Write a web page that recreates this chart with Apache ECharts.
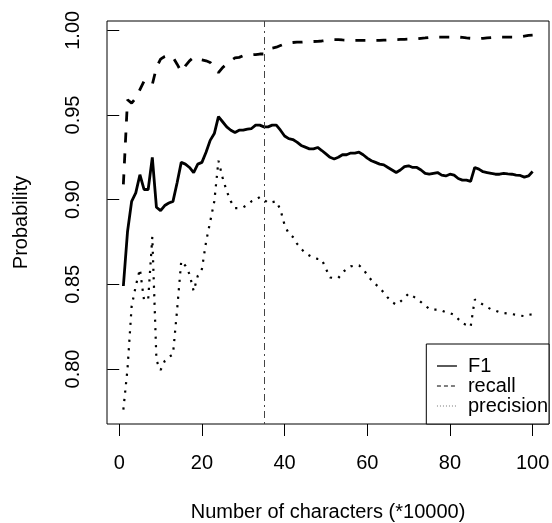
<!DOCTYPE html>
<html>
<head>
<meta charset="utf-8">
<script src="https://cdn.jsdelivr.net/npm/echarts@6/dist/echarts.min.js"></script>
<style>
  html, body { margin: 0; padding: 0; background: #fff; }
  #chart { width: 552px; height: 523px; }
</style>
</head>
<body>
<div id="chart"></div>
<script>
// x = number of characters (*10000)
const xs = [1,2,3,4,5,6,7,8,9,10,11,12,13,14,15,16,17,18,19,20,
  21,22,23,24,25,26,27,28,29,30,31,32,33,34,35,36,37,38,39,40,
  41,42,43,44,45,46,47,48,49,50,51,52,53,54,55,56,57,58,59,60,
  61,62,63,64,65,66,67,68,69,70,71,72,73,74,75,76,77,78,79,80,
  81,82,83,84,85,86,87,88,89,90,91,92,93,94,95,96,97,98,99,100];

const f1 = [0.849,0.881,0.899,0.904,0.9147,0.906,0.906,0.925,0.8955,0.8935,
  0.8965,0.898,0.899,0.910,0.922,0.921,0.919,0.916,0.921,0.922,
  0.928,0.935,0.939,0.949,0.946,0.943,0.941,0.9396,0.941,0.941,
  0.9416,0.942,0.944,0.944,0.943,0.943,0.944,0.944,0.941,0.9376,
  0.936,0.9355,0.934,0.932,0.931,0.930,0.930,0.9308,0.929,0.927,
  0.925,0.924,0.925,0.9265,0.9265,0.9275,0.9275,0.928,0.9265,0.9245,
  0.923,0.922,0.921,0.9205,0.919,0.9175,0.916,0.9175,0.9195,0.920,
  0.919,0.919,0.9175,0.9155,0.915,0.9155,0.916,0.9145,0.914,0.915,
  0.9145,0.9125,0.9115,0.9115,0.9108,0.919,0.918,0.9165,0.916,0.9155,
  0.915,0.915,0.9155,0.9152,0.915,0.9145,0.9143,0.9133,0.914,0.9166];

const recall = [0.909,0.959,0.957,0.960,0.965,0.970,0.970,0.968,0.978,0.983,
  0.9845,0.9853,0.984,0.980,0.9755,0.979,0.982,0.984,0.983,0.9825,
  0.982,0.981,0.978,0.975,0.978,0.980,0.982,0.9837,0.984,0.985,
  0.9852,0.9855,0.9857,0.986,0.986,0.988,0.9895,0.990,0.991,0.992,
  0.9925,0.9928,0.993,0.993,0.9932,0.9933,0.9934,0.9935,0.9937,0.994,
  0.9942,0.9945,0.9945,0.9943,0.9942,0.994,0.994,0.994,0.994,0.994,
  0.994,0.994,0.994,0.9942,0.9943,0.9944,0.9945,0.9946,0.9947,0.9948,
  0.9949,0.995,0.9953,0.9955,0.9958,0.996,0.996,0.996,0.996,0.996,
  0.996,0.996,0.9958,0.9955,0.9953,0.9951,0.9951,0.9953,0.9955,0.9957,
  0.9959,0.996,0.996,0.996,0.996,0.996,0.9962,0.9966,0.997,0.9972];

const precision = [0.776,0.800,0.837,0.849,0.859,0.8406,0.841,0.878,0.805,0.7994,
  0.8047,0.807,0.8086,0.835,0.8637,0.861,0.856,0.846,0.855,0.859,
  0.875,0.887,0.899,0.923,0.913,0.905,0.899,0.895,0.895,0.8955,
  0.897,0.899,0.900,0.9015,0.900,0.898,0.8985,0.899,0.894,0.885,
  0.880,0.878,0.874,0.871,0.8685,0.867,0.8657,0.865,0.8647,0.8592,
  0.854,0.8537,0.8537,0.857,0.859,0.8606,0.861,0.8612,0.859,0.8555,
  0.8525,0.850,0.848,0.845,0.842,0.8395,0.838,0.8398,0.842,0.8445,
  0.843,0.8415,0.8395,0.8375,0.8355,0.835,0.835,0.8345,0.8335,0.833,
  0.832,0.8295,0.827,0.826,0.8249,0.841,0.8395,0.838,0.8365,0.8352,
  0.8345,0.8335,0.833,0.8327,0.8324,0.832,0.8315,0.8312,0.8322,0.832];

const xTicks = [0, 20, 40, 60, 80, 100];
const yTicks = [0.80, 0.85, 0.90, 0.95, 1.00];
const cutoff = 35;

const font = 'Liberation Sans, Arial, Helvetica, sans-serif';
const chart = echarts.init(document.getElementById('chart'), null, {renderer: 'canvas'});

const pairs = arr => xs.map((x, i) => [x, arr[i]]);
const noSymbol = {opacity: 0};

const option = {
  animation: false,
  backgroundColor: '#fff',
  grid: {
    left: 107, right: 3, top: 21, bottom: 99,
    outerBoundsMode: 'none',
    show: true, borderColor: '#000', borderWidth: 1, backgroundColor: 'transparent'
  },
  xAxis: {
    type: 'value',
    min: -2.96, max: 103.96,
    name: 'Number of characters (*10000)',
    nameLocation: 'middle',
    nameGap: 78,
    nameTextStyle: {fontFamily: font, fontSize: 20, color: '#000'},
    axisLine: {show: false},
    axisTick: {show: true, length: 12, customValues: xTicks, lineStyle: {color: '#000', width: 1}},
    axisLabel: {customValues: xTicks, margin: 29, fontFamily: font, fontSize: 20, color: '#000'},
    splitLine: {show: false}
  },
  yAxis: {
    type: 'value',
    min: 0.7675, max: 1.0055,
    name: 'Probability',
    nameLocation: 'middle',
    nameGap: 76,
    nameTextStyle: {fontFamily: font, fontSize: 20, color: '#000'},
    axisLine: {show: false},
    axisTick: {show: true, length: 12, customValues: yTicks, lineStyle: {color: '#000', width: 1}},
    axisLabel: {
      customValues: yTicks, rotate: 90, margin: 24,
      fontFamily: font, fontSize: 20, color: '#000',
      formatter: v => v.toFixed(2)
    },
    splitLine: {show: false}
  },
  legend: {
    orient: 'vertical',
    right: 3, bottom: 99,
    padding: [12, 1, 8, 10],
    itemWidth: 20, itemHeight: 18, itemGap: 0,
    backgroundColor: '#fff',
    borderColor: '#000', borderWidth: 1, borderRadius: 0,
    textStyle: {fontFamily: font, fontSize: 20, color: '#000', lineHeight: 18, padding: [0, 0, 0, 6]},
    data: [
      {name: 'F1', itemStyle: noSymbol, lineStyle: {color: '#000', width: 1.3, type: 'solid'}},
      {name: 'recall', itemStyle: noSymbol, lineStyle: {color: '#000', width: 1, type: [4, 3]}},
      {name: 'precision', itemStyle: noSymbol, lineStyle: {color: '#777', width: 1, type: [1, 2]}}
    ]
  },
  series: [
    {
      name: 'F1', type: 'line', data: pairs(f1),
      symbol: 'none', lineStyle: {color: '#000', width: 2.8, type: 'solid'},
      itemStyle: {color: '#000'},
      markLine: {
        silent: true, symbol: 'none', label: {show: false},
        lineStyle: {color: '#444', width: 1, type: [2, 4, 7, 4]},
        data: [{xAxis: cutoff}]
      }
    },
    {
      name: 'recall', type: 'line', data: pairs(recall),
      symbol: 'none', lineStyle: {color: '#000', width: 2.8, type: [10, 11], cap: 'butt'},
      itemStyle: {color: '#000'}
    },
    {
      name: 'precision', type: 'line', data: pairs(precision),
      symbol: 'none', lineStyle: {color: '#000', width: 2.2, type: [2.2, 6.3], cap: 'butt'},
      itemStyle: {color: '#000'}
    }
  ]
};
chart.setOption(option);
</script>
</body>
</html>
